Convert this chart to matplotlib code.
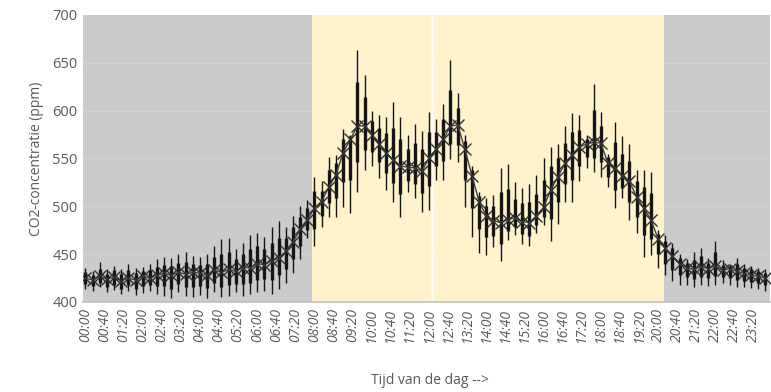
import matplotlib
matplotlib.use("Agg")
import matplotlib.pyplot as plt
import numpy as np

plt.rcParams['font.family'] = ['Open Sans', 'DejaVu Sans']

# meetmomenten per kwartier (minuten na middernacht)
minutes = list(range(0, 1440, 15))

# gemiddelde (X-markers)
co2_mean = [
    425, 423, 427, 424,  426, 422, 425, 423,  427, 425, 428, 430,  428, 431, 429, 431,
    430, 428, 433, 431,  434, 432, 436, 436,  440, 439, 443, 446,  453, 463, 476, 486,
    498, 505, 520, 533,  556, 570, 584, 584,  575, 565, 556, 548,  542, 541, 540, 537,
    550, 560, 570, 584,  585, 560, 532, 505,  490, 485, 483, 486,  488, 484, 483, 490,
    499, 517, 531, 545,  554, 562, 565, 567,  566, 545, 540, 532,  526, 510, 498, 486,
    466, 456, 448, 440,  436, 434, 437, 435,  438, 433, 435, 432,  430, 428, 427, 425,
]
# maximum (dunne lijn boven)
co2_max = [
    436, 432, 442, 434,  438, 435, 440, 436,  437, 440, 445, 447,  446, 450, 452, 448,
    447, 450, 458, 466,  467, 455, 462, 470,  472, 468, 478, 485,  478, 490, 500, 507,
    531, 526, 552, 554,  581, 575, 663, 637,  600, 595, 593, 609,  593, 575, 586, 579,
    599, 591, 607, 653,  618, 575, 542, 515,  509, 512, 540, 544,  525, 519, 523, 533,
    550, 562, 565, 584,  597, 595, 575, 628,  599, 555, 588, 573,  565, 538, 538, 536,
    475, 470, 462, 450,  445, 452, 456, 446,  464, 444, 440, 446,  440, 438, 436, 434,
]
# minimum (dunne lijn onder)
co2_min = [
    414, 412, 416, 410,  413, 408, 412, 407,  409, 412, 408, 406,  404, 410, 406, 405,
    407, 404, 410, 405,  406, 410, 406, 408,  410, 412, 408, 414,  420, 430, 445, 467,
    459, 478, 489, 489,  499, 493, 515, 538,  542, 530, 517, 504,  489, 515, 509, 494,
    496, 528, 528, 549,  546, 499, 468, 451,  449, 457, 443, 465,  470, 461, 459, 472,
    480, 464, 482, 504,  504, 526, 540, 536,  531, 520, 498, 509,  486, 472, 447, 449,
    436, 428, 422, 418,  418, 416, 418, 417,  418, 420, 418, 416,  416, 415, 414, 412,
]
# bovenkant dikke balk
co2_q_hi = [
    431, 428, 435, 429,  433, 429, 433, 430,  432, 433, 437, 439,  438, 441, 442, 440,
    439, 440, 447, 450,  452, 445, 450, 455,  458, 455, 462, 467,  467, 478, 489, 498,
    516, 516, 538, 545,  570, 573, 630, 614,  589, 582, 577, 582,  570, 560, 566, 560,
    578, 578, 591, 622,  603, 568, 538, 511,  500, 500, 515, 518,  508, 503, 505, 513,
    527, 542, 550, 566,  578, 580, 570, 601,  584, 551, 567, 555,  547, 526, 520, 514,
    471, 464, 456, 446,  441, 444, 448, 441,  452, 439, 438, 440,  436, 434, 432, 430,
]
# onderkant dikke balk
co2_q_lo = [
    419, 417, 420, 416,  418, 414, 418, 414,  417, 418, 417, 417,  414, 419, 416, 416,
    417, 415, 420, 416,  418, 419, 419, 420,  423, 424, 423, 428,  435, 445, 459, 475,
    476, 490, 503, 509,  525, 527, 546, 559,  557, 546, 535, 524,  513, 526, 523, 514,
    521, 542, 547, 565,  564, 527, 498, 476,  468, 469, 461, 474,  478, 471, 469, 480,
    489, 487, 504, 523,  527, 542, 551, 550,  546, 531, 517, 519,  504, 489, 470, 466,
    450, 440, 433, 428,  426, 424, 426, 425,  427, 426, 425, 423,  422, 421, 420, 418,
]

# dagperiode (geel) in minuten
day_start, day_end = 475, 1212
white_line = 727

tick_minutes = list(range(0, 1440, 40))
tick_labels = [f"{m // 60:02d}:{m % 60:02d}" for m in tick_minutes]

fig = plt.figure(figsize=(7.71, 3.92), dpi=100)
ax = fig.add_axes([0.1077, 0.2296, 0.8913, 0.7324])

gray = '#CBCBCE'
yellow = '#FFF2CC'
ax.set_facecolor(gray)
ax.axvspan(day_start, day_end, color=yellow, zorder=0, lw=0)
ax.axvline(white_line, color='#FFFBF0', lw=1.8, zorder=0.5)

# vage rasterlijnen
for yv in [450, 500, 550, 600, 650]:
    ax.axhline(yv, color='white', lw=1, alpha=0.18, zorder=0.6)

x = np.array(minutes)
ax.vlines(x, co2_min, co2_max, color='#151515', lw=1.0, zorder=2)
ax.vlines(x, co2_q_lo, co2_q_hi, color='#151515', lw=2.4, zorder=3)
ax.plot(x, co2_mean, color='#404040', lw=1.0, marker='x', markersize=9,
        markeredgewidth=1.0, markeredgecolor='#303030', zorder=4)

ax.set_xlim(-5, 1435)
ax.set_ylim(400, 700)
ax.set_yticks([400, 450, 500, 550, 600, 650, 700])
ax.set_xticks(tick_minutes)
ax.set_xticklabels(tick_labels, rotation=90, fontstyle='italic', fontsize=10, color='#595959')
ax.tick_params(axis='both', length=0, pad=4)
ax.tick_params(axis='y', labelsize=10.5, labelcolor='#595959')

for s in ['top', 'right', 'left']:
    ax.spines[s].set_visible(False)
ax.spines['bottom'].set_color('#BFBFBF')
ax.spines['bottom'].set_linewidth(1.2)

ax.set_ylabel('CO2-concentratie (ppm)', fontsize=10, color='#595959', labelpad=6)
fig.text(0.558, 0.02, 'Tijd van de dag -->', fontsize=10, color='#595959', ha='center')

fig.savefig('out.png', dpi=100)
